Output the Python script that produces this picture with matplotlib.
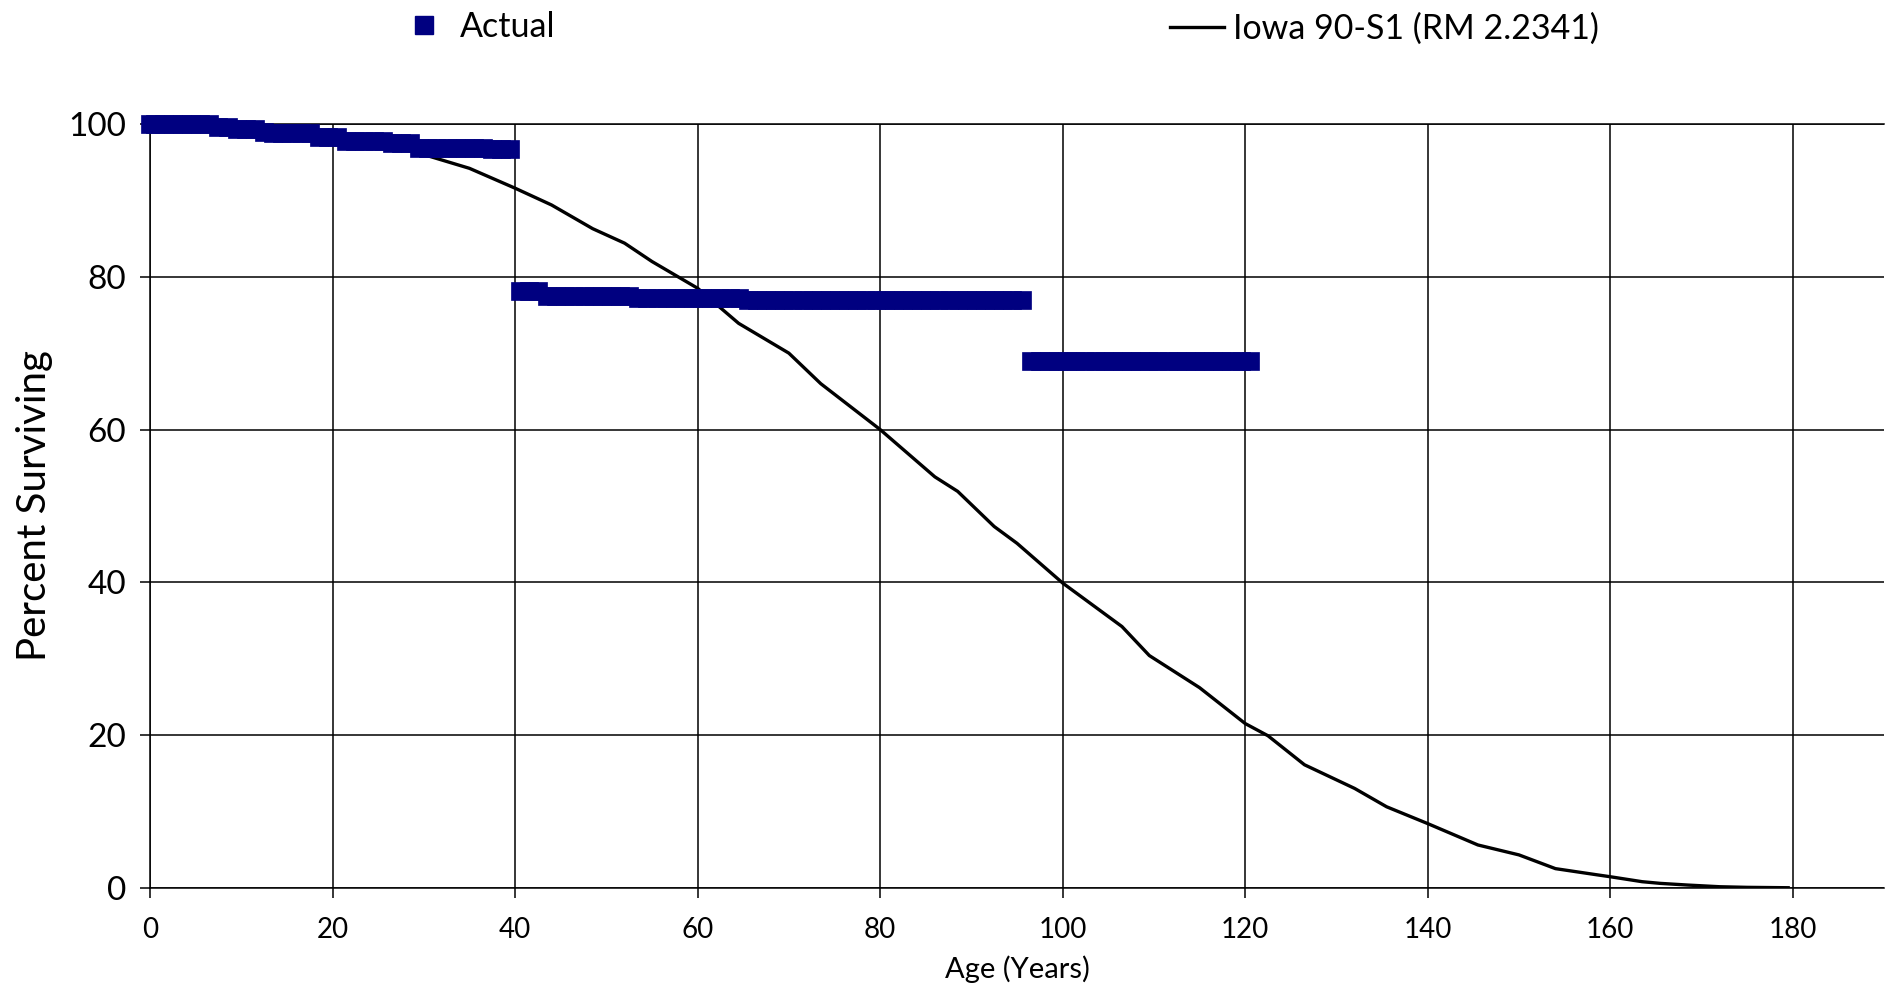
import matplotlib
matplotlib.use("Agg")
import matplotlib.pyplot as plt
from matplotlib.lines import Line2D

plt.rcParams["font.family"] = ["Lato", "DejaVu Sans"]

# Actual survivors, one point per age bracket (0, 0.5, 1.5, ... 120.5)
actual_age = [
    0, 0.5, 1.5, 2.5, 3.5, 4.5, 5.5, 6.5, 7.5, 8.5,
    9.5, 10.5, 11.5, 12.5, 13.5, 14.5, 15.5, 16.5, 17.5, 18.5,
    19.5, 20.5, 21.5, 22.5, 23.5, 24.5, 25.5, 26.5, 27.5, 28.5,
    29.5, 30.5, 31.5, 32.5, 33.5, 34.5, 35.5, 36.5, 37.5, 38.5,
    39.5, 40.5, 41.5, 42.5, 43.5, 44.5, 45.5, 46.5, 47.5, 48.5,
    49.5, 50.5, 51.5, 52.5, 53.5, 54.5, 55.5, 56.5, 57.5, 58.5,
    59.5, 60.5, 61.5, 62.5, 63.5, 64.5, 65.5, 66.5, 67.5, 68.5,
    69.5, 70.5, 71.5, 72.5, 73.5, 74.5, 75.5, 76.5, 77.5, 78.5,
    79.5, 80.5, 81.5, 82.5, 83.5, 84.5, 85.5, 86.5, 87.5, 88.5,
    89.5, 90.5, 91.5, 92.5, 93.5, 94.5, 95.5, 96.5, 97.5, 98.5,
    99.5, 100.5, 101.5, 102.5, 103.5, 104.5, 105.5, 106.5, 107.5, 108.5,
    109.5, 110.5, 111.5, 112.5, 113.5, 114.5, 115.5, 116.5, 117.5, 118.5,
    119.5, 120.5,
]
actual_pct = [
    100.0, 100.0, 100.0, 100.0, 100.0, 100.0, 100.0, 100.0, 99.65, 99.65,
    99.3, 99.3, 99.3, 98.9, 98.8, 98.8, 98.8, 98.8, 98.8, 98.25,
    98.25, 98.25, 97.8, 97.8, 97.8, 97.8, 97.8, 97.5, 97.5, 97.5,
    96.9, 96.9, 96.9, 96.9, 96.9, 96.9, 96.9, 96.9, 96.7, 96.7,
    96.7, 78.1, 78.1, 78.1, 77.5, 77.5, 77.5, 77.5, 77.5, 77.5,
    77.5, 77.5, 77.5, 77.5, 77.2, 77.2, 77.2, 77.2, 77.2, 77.2,
    77.2, 77.2, 77.2, 77.2, 77.2, 77.2, 76.95, 76.95, 76.95, 76.95,
    76.95, 76.95, 76.95, 76.95, 76.95, 76.95, 76.95, 76.95, 76.95, 76.95,
    76.95, 76.95, 76.95, 76.95, 76.95, 76.95, 76.95, 76.95, 76.95, 76.95,
    76.95, 76.95, 76.95, 76.95, 76.95, 76.95, 76.95, 69.0, 69.0, 69.0,
    69.0, 69.0, 69.0, 69.0, 69.0, 69.0, 69.0, 69.0, 69.0, 69.0,
    69.0, 69.0, 69.0, 69.0, 69.0, 69.0, 69.0, 69.0, 69.0, 69.0,
    69.0, 69.0,
]

# Iowa 90-S1 curve
iowa_age = [
    0, 5, 10, 15, 20, 25, 30, 35, 40, 44, 48.5, 52, 55, 60, 64.5,
    70, 73.5, 80, 86, 88.5, 92.5, 95, 100, 106.5, 109.5, 115, 120,
    122.5, 126.5, 132, 135.5, 140, 145.5, 150, 154, 158.5, 160, 163.5,
    165.5, 168.5, 172, 175, 179.5,
]
iowa_pct = [
    100, 99.9, 99.7, 99.3, 98.7, 97.8, 96.0, 94.2, 91.6, 89.4, 86.3,
    84.4, 82.0, 78.5, 73.9, 70.0, 66.0, 60.0, 53.8, 51.9, 47.3, 45.1,
    39.9, 34.2, 30.4, 26.2, 21.5, 19.9, 16.1, 13.0, 10.6, 8.4, 5.6,
    4.3, 2.5, 1.7, 1.44, 0.79, 0.57, 0.35, 0.13, 0.05, 0.0,
]

x_ticks = [0, 20, 40, 60, 80, 100, 120, 140, 160, 180]
y_ticks = [0, 20, 40, 60, 80, 100]

navy = "#000080"

fig = plt.figure(figsize=(18.92, 9.97), dpi=100)
ax = fig.add_axes([150 / 1892, 0.1096, 1734 / 1892, 0.766])

ax.plot(iowa_age, iowa_pct, color="black", lw=2.4, zorder=3)
ax.plot(actual_age, actual_pct, ls="none", marker="s", ms=13,
        mfc=navy, mec=navy, mew=0.5, zorder=4, clip_on=False)

ax.set_xlim(0, 190)
ax.set_ylim(0, 100)
ax.set_xticks(x_ticks)
ax.set_yticks(y_ticks)
ax.grid(True, color="black", lw=1.1)
ax.set_axisbelow(True)

for side in ["left", "bottom", "top"]:
    ax.spines[side].set_color("black")
    ax.spines[side].set_linewidth(1.1)
ax.spines["right"].set_visible(False)

ax.tick_params(axis="both", direction="out", length=7.2, width=1.1, colors="black")
ax.tick_params(axis="y", labelsize=24, pad=10)
ax.tick_params(axis="x", labelsize=20, pad=14)

ax.set_ylabel("Percent Surviving", fontsize=29)
ax.yaxis.set_label_coords(-0.056, 0.5)
ax.set_xlabel("Age (Years)", fontsize=21)
ax.xaxis.set_label_coords(0.5, -0.088)

actual_handle = Line2D([], [], ls="none", marker="s", ms=13, mfc=navy, mec=navy)
iowa_handle = Line2D([], [], color="black", lw=2.4)

common = dict(frameon=False, fontsize=24.5, borderpad=0, borderaxespad=0,
              handlelength=1.6, handletextpad=0.25, loc="center left")
fig.legend(handles=[actual_handle], labels=["Actual"],
           bbox_to_anchor=(397 / 1892, 0.973), **common)
fig.legend(handles=[iowa_handle], labels=["Iowa 90-S1 (RM 2.2341)"],
           bbox_to_anchor=(1170 / 1892, 0.971), **common)

fig.savefig("out.png", dpi=100)
